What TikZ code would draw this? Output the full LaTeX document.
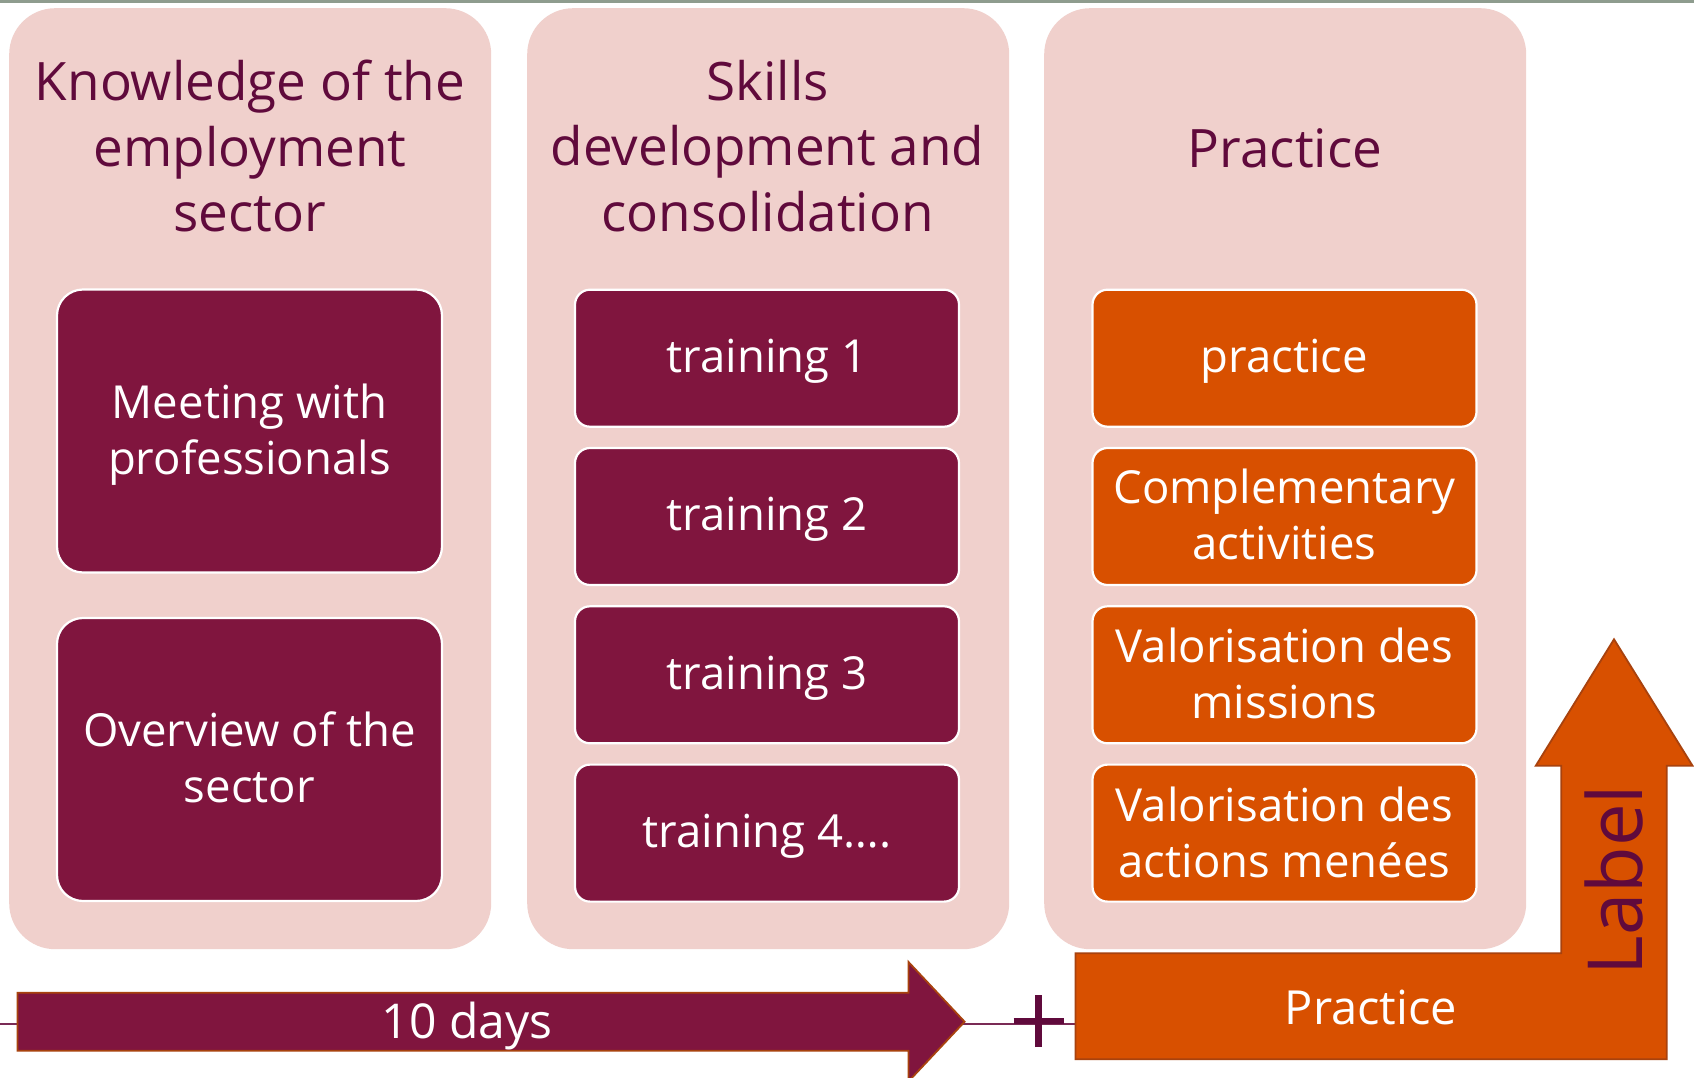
\documentclass[tikz,border=0pt]{standalone}
\usepackage{fontspec}
\setmainfont{Open Sans}
\definecolor{panelpink}{HTML}{F0D0CC}
\definecolor{boxpurple}{HTML}{80153E}
\definecolor{boxorange}{HTML}{D85000}
\definecolor{headpurple}{HTML}{600A3C}
\definecolor{edgebrown}{HTML}{A8420E}
\definecolor{topgray}{HTML}{8E9C8E}
\definecolor{linepurple}{HTML}{7A2A55}
\begin{document}
\begin{tikzpicture}[x=1pt,y=-1pt,
  panel/.style={fill=panelpink, draw=none, rounded corners=46pt, anchor=north west, minimum width=482pt, minimum height=941pt, inner sep=0pt},
  head/.style={text=headpurple, align=center, inner sep=0pt, font=\fontsize{53}{65.5}\selectfont},
  box/.style={draw=white, line width=2.2pt, text=white, align=center, inner sep=0pt, font=\fontsize{45.5}{56}\selectfont},
  pbox/.style={box, fill=boxpurple},
  obox/.style={box, fill=boxorange},
  smallbox/.style={minimum width=384pt, minimum height=137pt, rounded corners=15pt},
  bigbox/.style={minimum width=385pt, minimum height=283pt, rounded corners=26pt},
  boxlabel/.style={text=white, align=center, inner sep=0pt, font=\fontsize{45.5}{56}\selectfont},
  bigarrow/.style={draw=edgebrown, line width=1.8pt, line join=miter},
  arrowtext/.style={text=white, inner sep=0pt, font=\fontsize{48}{56}\selectfont},
  plusbar/.style={draw=headpurple, line width=6.5pt}
]
\useasboundingbox (0,0) rectangle (1694,1078);
\fill[white] (0,0) rectangle (1694,1078);
\fill[topgray] (0,0) rectangle (1694,3.3);

% panels
\node[panel] (p1) at (9,8) {};
\node[panel] (p2) at (527,8) {};
\node[panel] (p3) at (1044,8) {};

% headers
\node[head] (h1) at (250,146) {Knowledge of the\\employment\\sector};
\node[head] (h2) at (767.5,146) {Skills\\development and\\consolidation};
\node[head] (h3) at (1285,148) {Practice};

% column 1
\node[pbox, bigbox] (meet) at (249.5,431) {};
\node[boxlabel] at ([yshift=-4pt]meet.center) {Meeting with\\professionals};
\node[pbox, bigbox] (over) at (249.5,759.5) {};
\node[boxlabel] at ([yshift=2pt]over.center) {Overview of the\\sector};

% column 2
\node[pbox, smallbox] (t1) at (767,358.2) {};
\node[boxlabel] at ([yshift=-3pt]t1.center) {training 1};
\node[pbox, smallbox] (t2) at (767,516.5) {};
\node[boxlabel] at ([yshift=-3pt]t2.center) {training 2};
\node[pbox, smallbox] (t3) at (767,674.8) {};
\node[boxlabel] at ([yshift=-3pt]t3.center) {training 3};
\node[pbox, smallbox] (t4) at (767,833.1) {};
\node[boxlabel] at ([yshift=-3pt]t4.center) {training 4….};

% column 3
\node[obox, smallbox] (o1) at (1284.5,358.2) {};
\node[boxlabel] at ([yshift=-3pt]o1.center) {practice};
\node[obox, smallbox] (o2) at (1284.5,516.5) {};
\node[boxlabel] at ([yshift=2pt]o2.center) {Complementary\\activities};
\node[obox, smallbox] (o3) at (1284.5,674.8) {};
\node[boxlabel] at ([yshift=1pt]o3.center) {Valorisation des\\missions};
\node[obox, smallbox] (o4) at (1284.5,833.1) {};
\node[boxlabel] at ([yshift=1pt]o4.center) {Valorisation des\\actions menées};

% baseline connector
\coordinate (lstart) at (0,1024);
\coordinate (lend) at (1076,1024);
\draw[linepurple, line width=1.6pt] (lstart) -- (lend);

% 10 days arrow
\draw[bigarrow, fill=boxpurple] (17.5,992.7) -- (908.5,992.7) -- (908.5,962) -- (964.6,1021.7) -- (908.5,1081.4) -- (908.5,1050.7) -- (17.5,1050.7) -- cycle;
\node[arrowtext] (days) at (467,1026) {10 days};

% plus sign
\coordinate (pc) at (1038.5,1021);
\draw[plusbar] ([xshift=-25pt]pc) -- ([xshift=25pt]pc);
\draw[plusbar] ([yshift=-26pt]pc) -- ([yshift=26pt]pc);

% L-shaped practice arrow
\draw[bigarrow, fill=boxorange] (1075.5,953.3) -- (1561.3,953.3) -- (1561.3,765.7) -- (1535.8,765.7) -- (1614,639.3) -- (1692.5,765.7) -- (1666.8,765.7) -- (1666.8,1059.3) -- (1075.5,1059.3) -- cycle;
\node[arrowtext, font=\fontsize{47}{56}\selectfont] (prac) at (1371,1007) {Practice};
\node[text=headpurple, inner sep=0pt, rotate=90, font=\fontsize{76}{88}\selectfont] (lab) at (1614,880) {Label};
\end{tikzpicture}
\end{document}
